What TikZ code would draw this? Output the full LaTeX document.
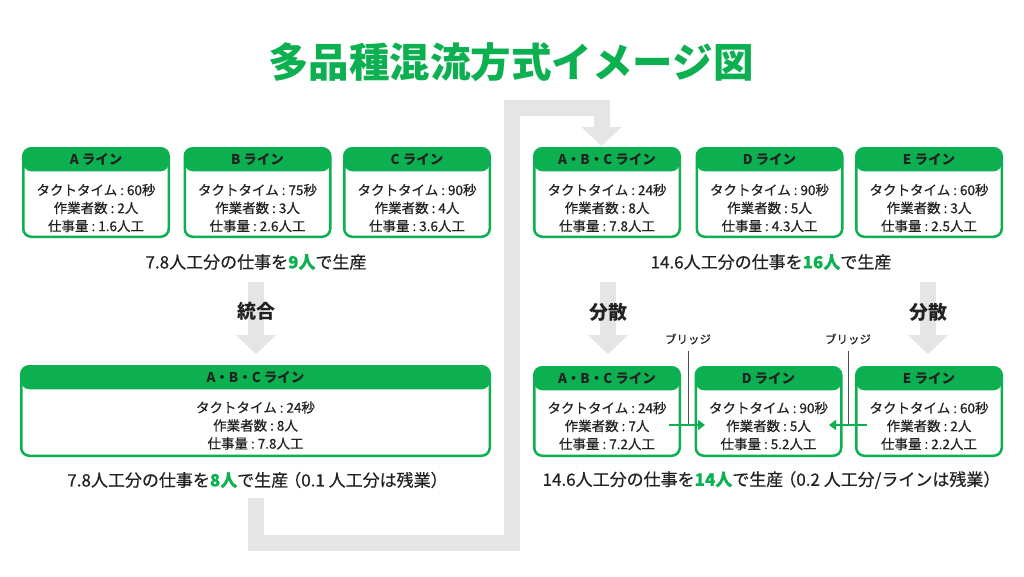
\documentclass[tikz,border=0pt]{standalone}
\usepackage{fontspec}
\setmainfont{Noto Sans CJK JP}
\newfontfamily\medfont{Noto Sans CJK JP}[FakeBold=0.4]
\usetikzlibrary{arrows.meta}
\definecolor{lg}{RGB}{12,176,80}
\definecolor{pipecol}{RGB}{229,229,229}
\definecolor{ink}{RGB}{34,34,34}
\newcommand{\cln}{\kern3pt:\kern3pt}
\newcommand{\lpar}{\kern-4pt（}
\newcommand{\rpar}{）\kern-7pt}
\begin{document}
\begin{tikzpicture}[x=1pt,y=-1pt,
  box/.style={draw=lg, line width=2.5pt, rounded corners=8pt, fill=white, inner sep=0pt,
    path picture={\fill[lg] (path picture bounding box.north west) rectangle ([yshift=-23pt]path picture bounding box.north east);}},
  smallbox/.style={box, minimum width=145.5pt, minimum height=88.5pt},
  hdr/.style={font=\bfseries\fontsize{13.5}{15}\selectfont, text=ink, inner sep=0pt},
  body/.style={font=\medfont\fontsize{13.5}{18}\selectfont, text=ink, align=center, inner sep=0pt},
  captxt/.style={font=\medfont\fontsize{17}{20}\selectfont, text=ink, inner sep=0pt},
  lbl/.style={font=\bfseries\fontsize{19}{22}\selectfont, text=ink, inner sep=0pt},
  brl/.style={font=\medfont\fontsize{11.5}{14}\selectfont, text=ink, inner sep=0pt},
  pipe/.style={draw=pipecol, line width=16pt, line join=miter},
  bigarrow/.style={pipe, -{Triangle[length=19pt,width=39pt]}},
  bridge/.style={draw=ink!80, line width=1pt},
  garrow/.style={draw=lg, line width=2.5pt, -{Triangle[length=7pt,width=10pt]}}
]
\useasboundingbox[fill=white] (0,0) rectangle (1024,576);

% ---- connector pipe (behind everything)
\coordinate (p0) at (256,498);
\coordinate (p1) at (256,543);
\coordinate (p2) at (511.5,543);
\coordinate (p3) at (511.5,108);
\coordinate (p4) at (601.5,108);
\coordinate (p5) at (601.5,146);
\draw[bigarrow] (p0) -- (p1) -- (p2) -- (p3) -- (p4) -- (p5);

% ---- title
\node[font=\bfseries\fontsize{40.5}{44}\selectfont, text=lg, inner sep=0pt] (title) at (511,62) {多品種混流方式イメージ図};

% ---- top-left row
\node[smallbox] (A) at (96,192.5) {};
\node[hdr] (Ah) at ([yshift=-12.5pt]A.north) {A ライン};
\node[body] (Ab) at ([yshift=-15.5pt]A.center) {タクトタイム\cln 60秒\\作業者数\cln 2人\\仕事量\cln 1.6人工};
\node[smallbox] (B) at (257.5,192.5) {};
\node[hdr] (Bh) at ([yshift=-12.5pt]B.north) {B ライン};
\node[body] (Bb) at ([yshift=-15.5pt]B.center) {タクトタイム\cln 75秒\\作業者数\cln 3人\\仕事量\cln 2.6人工};
\node[smallbox] (C) at (417,192.5) {};
\node[hdr] (Ch) at ([yshift=-12.5pt]C.north) {C ライン};
\node[body] (Cb) at ([yshift=-15.5pt]C.center) {タクトタイム\cln 90秒\\作業者数\cln 4人\\仕事量\cln 3.6人工};
\node[captxt] (capTL) at (256,262) {7.8人工分の仕事を\textcolor{lg}{\bfseries 9人}で生産};

% ---- top-right row
\node[smallbox] (R1) at (607,192.5) {};
\node[hdr] (R1h) at ([yshift=-12.5pt]R1.north) {A・B・C ライン};
\node[body] (R1b) at ([yshift=-15.5pt]R1.center) {タクトタイム\cln 24秒\\作業者数\cln 8人\\仕事量\cln 7.8人工};
\node[smallbox] (R2) at (769.5,192.5) {};
\node[hdr] (R2h) at ([yshift=-12.5pt]R2.north) {D ライン};
\node[body] (R2b) at ([yshift=-15.5pt]R2.center) {タクトタイム\cln 90秒\\作業者数\cln 5人\\仕事量\cln 4.3人工};
\node[smallbox] (R3) at (929,192.5) {};
\node[hdr] (R3h) at ([yshift=-12.5pt]R3.north) {E ライン};
\node[body] (R3b) at ([yshift=-15.5pt]R3.center) {タクトタイム\cln 60秒\\作業者数\cln 3人\\仕事量\cln 2.5人工};
\node[captxt] (capTR) at (771,262) {14.6人工分の仕事を\textcolor{lg}{\bfseries 16人}で生産};

% ---- big down arrows
\coordinate (a1s) at (256,282);
\coordinate (a1e) at (256,354);
\draw[bigarrow] (a1s) -- (a1e);
\node[lbl] (tougou) at (256,311) {統合};
\coordinate (a2s) at (608,282);
\coordinate (a2e) at (608,354);
\draw[bigarrow] (a2s) -- (a2e);
\node[lbl] (bunsan1) at (608,312) {分散};
\coordinate (a3s) at (928,282);
\coordinate (a3e) at (928,354);
\draw[bigarrow] (a3s) -- (a3e);
\node[lbl] (bunsan2) at (928,312) {分散};

% ---- bottom-left
\node[box, minimum width=468.5pt, minimum height=89.5pt] (L) at (255.5,411) {};
\node[hdr] (Lh) at ([yshift=-12.5pt]L.north) {A・B・C ライン};
\node[body] (Lb) at ([yshift=-14.5pt]L.center) {タクトタイム\cln 24秒\\作業者数\cln 8人\\仕事量\cln 7.8人工};
\node[captxt] (capBL) at (254,480) {7.8人工分の仕事を\textcolor{lg}{\bfseries 8人}で生産\lpar 0.1 人工分は残業\rpar};

% ---- bottom-right
\node[smallbox] (S1) at (607,411.5) {};
\node[hdr] (S1h) at ([yshift=-12.5pt]S1.north) {A・B・C ライン};
\node[body] (S1b) at ([yshift=-14.5pt]S1.center) {タクトタイム\cln 24秒\\作業者数\cln 7人\\仕事量\cln 7.2人工};
\node[smallbox] (S2) at (768.5,411.5) {};
\node[hdr] (S2h) at ([yshift=-12.5pt]S2.north) {D ライン};
\node[body] (S2b) at ([yshift=-14.5pt]S2.center) {タクトタイム\cln 90秒\\作業者数\cln 5人\\仕事量\cln 5.2人工};
\node[smallbox] (S3) at (929,411.5) {};
\node[hdr] (S3h) at ([yshift=-12.5pt]S3.north) {E ライン};
\node[body] (S3b) at ([yshift=-14.5pt]S3.center) {タクトタイム\cln 60秒\\作業者数\cln 2人\\仕事量\cln 2.2人工};
\node[captxt] (capBR) at (768,480) {14.6人工分の仕事を\textcolor{lg}{\bfseries 14人}で生産\lpar 0.2 人工分/ラインは残業\rpar};

% ---- bridges
\node[brl] (br1) at (688,339) {ブリッジ};
\coordinate (br1b) at (688,424);
\draw[bridge] (br1.south) ++(0,6) -- (br1b);
\node[brl] (br2) at (848,339) {ブリッジ};
\coordinate (br2b) at (848,424);
\draw[bridge] (br2.south) ++(0,6) -- (br2b);

\coordinate (g1s) at (669,425);
\coordinate (g1e) at (705,425);
\draw[garrow] (g1s) -- (g1e);
\coordinate (g2s) at (867,425);
\coordinate (g2e) at (829,425);
\draw[garrow] (g2s) -- (g2e);
\end{tikzpicture}
\end{document}
